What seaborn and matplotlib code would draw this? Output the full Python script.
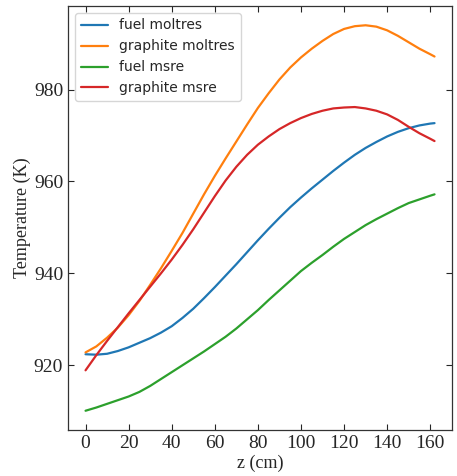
import numpy as np
import pandas as pd
import seaborn as sns
import matplotlib.pyplot as plt

# axial positions (cm)
z = [0, 5, 10, 15, 20, 25, 30, 35, 40, 45, 50, 55, 60, 65, 70, 75, 80,
     85, 90, 95, 100, 105, 110, 115, 120, 125, 130, 135, 140, 145, 150, 155, 160, 162]

# temperatures (K)
fuel_moltres = [922.4, 922.3, 922.5, 923.1, 923.9, 924.9, 925.9, 927.1, 928.5, 930.3,
                932.3, 934.6, 937.0, 939.5, 942.0, 944.6, 947.2, 949.7, 952.1, 954.4,
                956.5, 958.5, 960.4, 962.3, 964.1, 965.8, 967.3, 968.6, 969.8, 970.8,
                971.6, 972.2, 972.6, 972.7]
graphite_moltres = [922.8, 924.1, 926.0, 928.2, 930.9, 934.0, 937.5, 941.1, 944.9, 948.8,
                    953.0, 957.2, 961.2, 965.0, 968.7, 972.4, 976.0, 979.2, 982.2, 984.8,
                    987.0, 988.9, 990.6, 992.1, 993.2, 993.8, 994.0, 993.7, 992.9, 991.7,
                    990.3, 988.9, 987.7, 987.2]
fuel_msre = [910.1, 910.8, 911.6, 912.4, 913.2, 914.2, 915.5, 917.0, 918.5, 920.0,
             921.5, 923.0, 924.6, 926.2, 928.0, 930.0, 932.0, 934.2, 936.3, 938.4,
             940.5, 942.3, 944.0, 945.8, 947.5, 949.0, 950.5, 951.8, 953.0, 954.2,
             955.3, 956.1, 956.9, 957.2]
graphite_msre = [918.9, 922.2, 925.3, 928.3, 931.3, 934.2, 937.1, 940.0, 943.0, 946.2,
                 949.6, 953.2, 956.8, 960.2, 963.2, 965.8, 968.0, 969.8, 971.4, 972.7,
                 973.8, 974.7, 975.4, 975.9, 976.1, 976.2, 975.9, 975.4, 974.6, 973.4,
                 971.9, 970.5, 969.3, 968.8]

labels = ["fuel moltres", "graphite moltres", "fuel msre", "graphite msre"]
series = [fuel_moltres, graphite_moltres, fuel_msre, graphite_msre]

df = pd.concat([pd.DataFrame({"z": z, "T": s, "case": lab}) for lab, s in zip(labels, series)])

sns.set_style("ticks")
plt.rcParams['font.family'] = ['DejaVu Sans']

fig = plt.figure(figsize=(4.57, 4.76), dpi=100)
ax = fig.add_axes([0.149, 0.0966, 0.84, 0.8908])

colors = ["#1f77b4", "#ff7f0e", "#2ca02c", "#d62728"]
sns.lineplot(data=df, x="z", y="T", hue="case", palette=colors, linewidth=1.6, ax=ax)

ax.set_xticks(range(0, 161, 20))
ax.set_yticks([920, 940, 960, 980])
ax.tick_params(direction="in", top=True, right=True, length=4, width=0.8, labelsize=14)
for t in ax.get_xticklabels() + ax.get_yticklabels():
    t.set_fontfamily("Liberation Serif")
ax.set_xlabel("z (cm)", fontfamily="Liberation Serif", fontsize=13, labelpad=2)
ax.set_ylabel("Temperature (K)", fontfamily="Liberation Serif", fontsize=13, labelpad=2)
for sp in ax.spines.values():
    sp.set_color("#333333")
    sp.set_linewidth(0.9)

leg = ax.legend(loc="upper left", fontsize=10, frameon=True, handlelength=2.0)
leg.get_frame().set_edgecolor("#cccccc")

fig.savefig("out.png", dpi=100)
